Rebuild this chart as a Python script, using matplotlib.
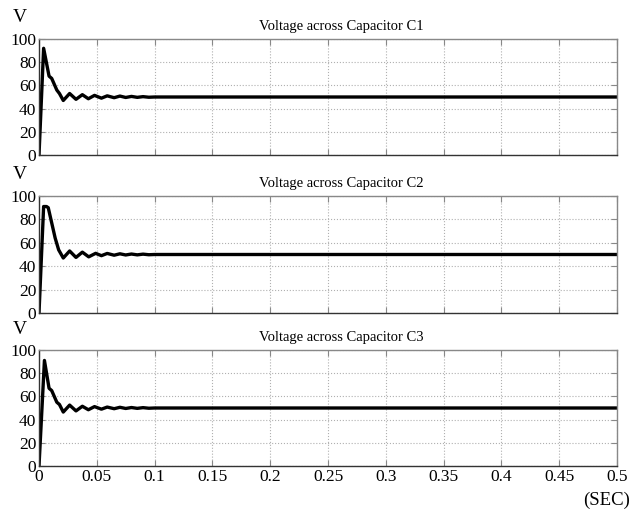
import matplotlib
matplotlib.use("Agg")
import matplotlib.pyplot as plt

# ---- data ----
t_c1 = [0.0, 0.004, 0.0087, 0.011, 0.0154, 0.0177, 0.021, 0.0265, 0.032, 0.0375,
        0.0427, 0.048, 0.054, 0.059, 0.065, 0.070, 0.075, 0.080, 0.085, 0.090, 0.095, 0.100, 0.5]
v_c1 = [0, 92, 68, 66, 56, 53, 47, 53, 48, 52,
        48.5, 51.4, 49, 51, 49.4, 50.8, 49.6, 50.5, 49.7, 50.3, 49.8, 50, 50]

t_c2 = [0.0, 0.004, 0.0065, 0.008, 0.011, 0.014, 0.017, 0.021, 0.0265, 0.032, 0.0375,
        0.043, 0.049, 0.054, 0.059, 0.065, 0.070, 0.075, 0.080, 0.085, 0.090, 0.095, 0.100, 0.5]
v_c2 = [0, 91, 91, 90, 77, 64, 54, 47, 53, 47.5, 52,
        48, 51, 49, 50.9, 49.4, 50.6, 49.6, 50.4, 49.7, 50.3, 49.8, 50, 50]

t_c3 = [0.0, 0.0047, 0.0087, 0.011, 0.0154, 0.0177, 0.021, 0.0265, 0.032, 0.0375,
        0.0427, 0.048, 0.054, 0.059, 0.065, 0.070, 0.075, 0.080, 0.085, 0.090, 0.095, 0.100, 0.5]
v_c3 = [0, 91, 67, 65, 55, 53, 46.5, 52.5, 47.5, 51.5,
        48.5, 51.2, 49, 50.8, 49.4, 50.6, 49.6, 50.4, 49.7, 50.3, 49.8, 50, 50]

titles = ["Voltage across Capacitor C1", "Voltage across Capacitor C2", "Voltage across Capacitor C3"]
x_ticks = [0, 0.05, 0.1, 0.15, 0.2, 0.25, 0.3, 0.35, 0.4, 0.45, 0.5]
x_ticklabels = ["0", "0.05", "0.1", "0.15", "0.2", "0.25", "0.3", "0.35", "0.4", "0.45", "0.5"]
y_ticks = [0, 20, 40, 60, 80, 100]

series = [(t_c1, v_c1), (t_c2, v_c2), (t_c3, v_c3)]

serif = "Liberation Serif"

W, H = 630, 516
fig = plt.figure(figsize=(W / 100, H / 100), dpi=100)

# axes boxes in pixels: (top, bottom)
boxes = [(39, 155), (196, 313), (350, 466)]
left, right = 39, 617

for i, ((tt, vv), (top, bot)) in enumerate(zip(series, boxes)):
    ax = fig.add_axes([left / W, 1 - bot / H, (right - left) / W, (bot - top) / H])
    ax.plot(tt, vv, color="black", lw=2.4, solid_joinstyle="round")
    ax.set_xlim(0, 0.5)
    ax.set_ylim(0, 100)
    ax.set_xticks(x_ticks)
    ax.set_yticks(y_ticks)
    ax.set_yticklabels([str(y) for y in y_ticks], fontfamily=serif, fontsize=12.5)
    if i == 2:
        ax.set_xticklabels(x_ticklabels, fontfamily=serif, fontsize=12.5)
    else:
        ax.set_xticklabels([])
    ax.tick_params(direction="in", top=True, right=True, length=4, width=0.8,
                   color="#888888", pad=2)
    ax.grid(True, linestyle=":", color="#b0b0b0", lw=0.8)
    for s in ["top", "right"]:
        ax.spines[s].set_color("#888888")
    for s in ["left", "bottom"]:
        ax.spines[s].set_color("#333333")
    for s in ax.spines.values():
        s.set_linewidth(1.0)
    ax.text(0.523, 1.05, titles[i], transform=ax.transAxes, ha="center", va="bottom",
            fontfamily=serif, fontsize=10.5)
    fig.text(20 / W, 1 - (top - 21) / H, "V", fontfamily=serif, fontsize=14,
             ha="center", va="center")

fig.text(607 / W, 1 - 500 / H, "(SEC)", fontfamily=serif, fontsize=13.5, ha="center", va="center")

fig.savefig("out.png", dpi=100)
